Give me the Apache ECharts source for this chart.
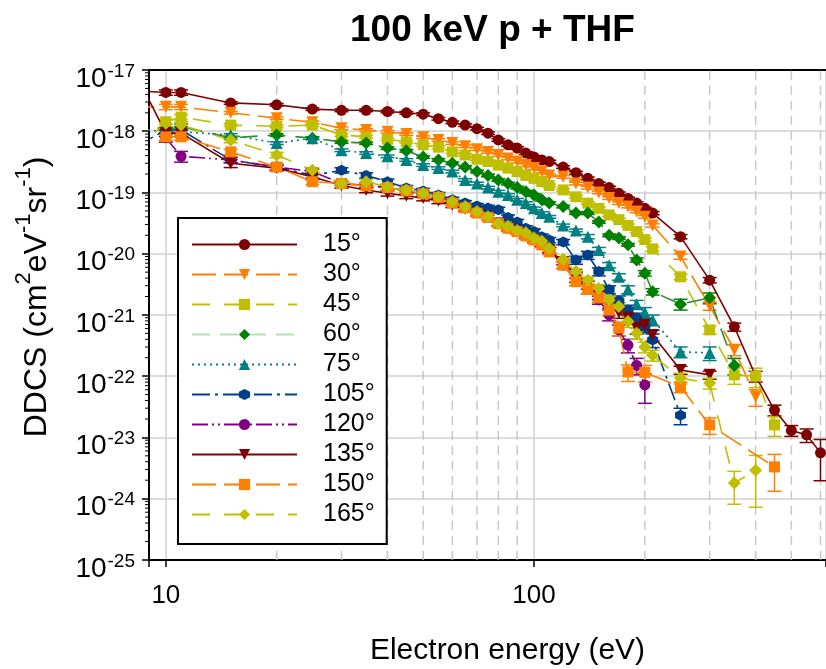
<!DOCTYPE html>
<html><head><meta charset="utf-8">
<script src="https://cdn.jsdelivr.net/npm/echarts@6/dist/echarts.min.js"></script>
<style>html,body{margin:0;padding:0;background:#fff}#c{width:826px;height:669px}</style>
</head><body><div id="c"></div>
<script>
// ---------------- data ----------------
const energy15 = [8,10,11,15,20,25,30,35,40,45,50,55,60,65,70,75,80,85,90,95,100,105,110,120,130,140,150,160,170,180,190,200,210,250,300,350,400,450,500,550,600];
const ddcs15 = [4.6e-18,4.3e-18,4.3e-18,2.9e-18,2.7e-18,2.3e-18,2.2e-18,2.2e-18,2.1e-18,2.0e-18,1.9e-18,1.6e-18,1.4e-18,1.26e-18,1.1e-18,9.3e-19,7.2e-19,6.0e-19,5.3e-19,4.4e-19,3.8e-19,3.4e-19,3.2e-19,2.6e-19,2.1e-19,1.7e-19,1.4e-19,1.2e-19,9.7e-20,8.0e-20,6.7e-20,5.5e-20,4.6e-20,1.9e-20,3.7e-21,6.4e-22,1.0e-22,2.8e-23,1.3e-23,1.1e-23,5.6e-24];
const err15 = [0.05,0.1,0.1,0.05,0.05,0.05,0.05,0.05,0.05,0.05,0.05,0.05,0.05,0.05,0.05,0.05,0.05,0.05,0.05,0.05,0.05,0.05,0.05,0.05,0.05,0.05,0.05,0.05,0.05,0.05,0.05,0.05,0.06,0.08,0.1,0.15,0.2,0.2,0.2,0.25,0.65];

const energy30 = [8,10,11,15,20,25,30,35,40,45,50,55,60,65,70,75,80,85,90,95,100,105,110,120,130,140,150,160,170,180,190,200,210,250,300,350,400];
const ddcs30 = [2.5e-18,2.5e-18,2.5e-18,2.0e-18,1.63e-18,1.4e-18,1.12e-18,1.05e-18,9.8e-19,9.0e-19,8.0e-19,7.2e-19,6.4e-19,5.7e-19,5.1e-19,4.6e-19,4.1e-19,3.6e-19,3.2e-19,2.8e-19,2.5e-19,2.2e-19,1.9e-19,1.8e-19,1.4e-19,1.2e-19,1.0e-19,8.1e-20,6.7e-20,5.9e-20,4.9e-20,4.0e-20,2.9e-20,9.0e-21,1.4e-21,2.7e-22,4.6e-23];
const err30 = [0.05,0.1,0.1,0.05,0.05,0.05,0.05,0.05,0.05,0.05,0.05,0.05,0.05,0.05,0.05,0.05,0.05,0.05,0.05,0.05,0.05,0.05,0.05,0.05,0.05,0.05,0.05,0.05,0.05,0.05,0.05,0.05,0.06,0.1,0.15,0.2,0.3];

const energy45 = [8,10,11,15,20,25,30,35,40,45,50,55,60,65,70,75,80,85,90,95,100,105,110,120,130,140,150,160,170,180,190,200,210,250,300,350,400,450];
const ddcs45 = [1.8e-18,1.43e-18,1.7e-18,1.26e-18,1.2e-18,1.26e-18,8.7e-19,8.1e-19,7.4e-19,6.7e-19,6.0e-19,5.5e-19,4.6e-19,4.1e-19,3.5e-19,3.2e-19,2.8e-19,2.5e-19,2.2e-19,1.9e-19,1.7e-19,1.5e-19,1.3e-19,1.1e-19,8.5e-20,6.7e-20,5.5e-20,4.3e-20,3.6e-20,2.9e-20,2.3e-20,1.7e-20,1.2e-20,4.2e-21,5.7e-22,1.05e-22,1.0e-22,1.6e-23];
const err45 = [0.05,0.1,0.1,0.05,0.05,0.05,0.05,0.05,0.05,0.05,0.05,0.05,0.05,0.05,0.05,0.05,0.05,0.05,0.05,0.05,0.05,0.05,0.05,0.05,0.05,0.05,0.05,0.05,0.05,0.05,0.05,0.06,0.08,0.1,0.15,0.3,0.35,0.35];

const energy60 = [8,10,11,15,20,25,30,35,40,45,50,55,60,65,70,75,80,85,90,95,100,105,110,120,130,140,150,160,170,180,190,200,210,250,300,350];
const ddcs60 = [1.43e-18,1.05e-18,1.19e-18,7.8e-19,8.7e-19,7.7e-19,6.7e-19,6.4e-19,5.3e-19,4.8e-19,3.8e-19,3.4e-19,3.0e-19,2.6e-19,2.2e-19,1.9e-19,1.6e-19,1.4e-19,1.2e-19,1.03e-19,9.1e-20,7.6e-20,6.7e-20,5.9e-20,4.6e-20,4.6e-20,3.3e-20,2.0e-20,1.8e-20,1.4e-20,7.9e-21,4.8e-21,2.4e-21,1.5e-21,1.9e-21,1.5e-22];
const err60 = [0.05,0.1,0.1,0.05,0.05,0.05,0.05,0.05,0.05,0.05,0.05,0.05,0.05,0.05,0.05,0.05,0.05,0.05,0.05,0.05,0.05,0.05,0.05,0.05,0.05,0.05,0.05,0.05,0.05,0.05,0.08,0.1,0.12,0.2,0.2,0.3];

const energy75 = [8,10,11,15,20,25,30,35,40,45,50,55,60,65,70,75,80,85,90,95,100,105,110,120,130,140,150,160,170,180,190,200,210,250,300];
const ddcs75 = [1.13e-18,9.8e-19,9.8e-19,8.7e-19,6.4e-19,7.7e-19,4.9e-19,4.4e-19,3.9e-19,3.4e-19,2.8e-19,2.5e-19,2.2e-19,1.6e-19,1.4e-19,1.2e-19,1.03e-19,9.1e-20,7.6e-20,6.7e-20,5.5e-20,4.6e-20,4.0e-20,2.9e-20,2.4e-20,1.9e-20,1.15e-20,6.5e-21,4.2e-21,2.6e-21,1.5e-21,1.1e-21,8.3e-22,2.5e-22,2.4e-22];
const err75 = [0.05,0.1,0.1,0.05,0.05,0.05,0.05,0.05,0.05,0.05,0.05,0.05,0.05,0.05,0.05,0.05,0.05,0.05,0.05,0.05,0.05,0.05,0.05,0.05,0.05,0.08,0.1,0.1,0.12,0.15,0.15,0.2,0.2,0.2,0.25];

const energy105 = [8,10,11,15,20,25,30,35,40,45,50,55,60,65,70,75,80,85,90,95,100,105,110,120,130,140,150,160,170,180,190,200,210,250];
const ddcs105 = [5.0e-19,1.05e-18,1.05e-18,3.4e-19,2.6e-19,1.9e-19,2.3e-19,1.9e-19,1.5e-19,1.18e-19,1.06e-19,9.1e-20,7.6e-20,6.7e-20,6.0e-20,5.6e-20,5.2e-20,3.9e-20,3.3e-20,2.6e-20,2.3e-20,1.9e-20,1.67e-20,1.55e-20,7.9e-21,9.5e-21,5.1e-21,2.6e-21,1.7e-21,1.2e-21,8.9e-22,6.4e-22,3.9e-22,2.3e-23];
const err105 = [0.1,0.12,0.12,0.1,0.1,0.1,0.1,0.1,0.1,0.1,0.1,0.1,0.1,0.1,0.1,0.1,0.1,0.1,0.1,0.1,0.1,0.1,0.1,0.1,0.15,0.15,0.15,0.15,0.2,0.2,0.2,0.2,0.25,0.3];

const energy120 = [10,11,15,20,25,30,35,40,45,50,55,60,65,70,75,80,85,90,95,100,105,110,120,130,140,150,160,170,180,190,200];
const ddcs120 = [7.8e-19,3.9e-19,3.4e-19,2.6e-19,2.2e-19,1.4e-19,1.3e-19,1.2e-19,1.06e-19,9.5e-20,8.4e-20,7.0e-20,5.8e-20,4.8e-20,4.0e-20,3.2e-20,2.7e-20,2.35e-20,2.0e-20,1.74e-20,1.44e-20,1.15e-20,6.5e-21,4.0e-21,2.6e-21,1.76e-21,1.0e-21,5.7e-22,3.2e-22,1.5e-22,7.2e-23];
const err120 = [0.15,0.2,0.1,0.1,0.1,0.1,0.1,0.1,0.1,0.1,0.1,0.1,0.1,0.1,0.1,0.1,0.1,0.1,0.1,0.1,0.1,0.1,0.12,0.15,0.15,0.15,0.2,0.2,0.25,0.3,0.5];

const energy135 = [8,10,11,15,20,25,30,35,40,45,50,55,60,65,70,75,80,85,90,95,100,105,110,120,130,140,150,160,170,180,190,200,210,250,300];
const ddcs135 = [1.3e-17,9.3e-19,9.3e-19,3.0e-19,2.5e-19,1.8e-19,1.3e-19,1.1e-19,9.7e-20,8.8e-20,8.1e-20,7.3e-20,6.3e-20,5.4e-20,4.6e-20,3.9e-20,3.1e-20,2.6e-20,2.3e-20,1.95e-20,1.67e-20,1.44e-20,1.15e-20,7.3e-21,4.5e-21,3.1e-21,2.1e-21,1.5e-21,1.1e-21,8.8e-22,6.1e-22,6.9e-22,4.7e-22,1.26e-22,1.05e-22];
const err135 = [0.1,0.12,0.12,0.15,0.1,0.1,0.1,0.1,0.1,0.1,0.1,0.1,0.1,0.1,0.1,0.1,0.1,0.1,0.1,0.1,0.1,0.1,0.1,0.1,0.12,0.15,0.15,0.15,0.2,0.2,0.2,0.2,0.2,0.15,0.15];

const energy150 = [10,11,15,20,25,30,35,40,45,50,55,60,65,70,75,80,85,90,95,100,105,110,120,130,140,150,160,170,180,200,250,300,450];
const ddcs150 = [8.1e-19,8.1e-19,4.6e-19,2.6e-19,1.5e-19,1.4e-19,1.28e-19,1.2e-19,1.06e-19,9.5e-20,8.3e-20,6.7e-20,5.6e-20,4.6e-20,3.9e-20,3.1e-20,2.6e-20,2.3e-20,1.95e-20,1.67e-20,1.39e-20,1.07e-20,6.5e-21,3.5e-21,2.6e-21,1.9e-21,1.2e-21,6.1e-22,1.17e-22,1.15e-22,6.7e-23,1.6e-23,3.3e-24];
const err150 = [0.12,0.12,0.1,0.1,0.1,0.1,0.1,0.1,0.1,0.1,0.1,0.1,0.1,0.1,0.1,0.1,0.1,0.1,0.1,0.1,0.1,0.1,0.12,0.15,0.15,0.15,0.2,0.25,0.3,0.3,0.2,0.3,0.6];

const energy165 = [8,10,11,15,20,25,30,35,40,45,50,55,60,65,70,75,80,85,90,95,100,105,110,120,130,140,150,160,170,180,190,200,210,250,300,350,400];
const ddcs165 = [4.4e-19,1.35e-18,1.26e-18,7.2e-19,4.1e-19,2.3e-19,1.4e-19,1.5e-19,1.24e-19,1.1e-19,9.7e-20,8.5e-20,7.1e-20,5.9e-20,4.9e-20,4.0e-20,3.1e-20,2.8e-20,2.4e-20,2.2e-20,1.8e-20,1.6e-20,1.23e-20,8.1e-21,5.1e-21,3.7e-21,2.7e-21,1.76e-21,1.37e-21,7.8e-22,5.0e-22,3.0e-22,2.2e-22,9.3e-23,7.7e-23,1.8e-24,2.9e-24];
const err165 = [0.1,0.12,0.12,0.1,0.1,0.1,0.1,0.1,0.1,0.1,0.1,0.1,0.1,0.1,0.1,0.1,0.1,0.1,0.1,0.1,0.1,0.1,0.1,0.1,0.1,0.12,0.15,0.15,0.15,0.2,0.2,0.2,0.2,0.2,0.2,0.55,0.75];

const angleLabels = ['15°','30°','45°','60°','75°','105°','120°','135°','150°','165°'];
const xGridMinor = [20,30,40,50,60,70,80,90,200,300,400,500,600];
const yMinorTicks = [];
[-25,-24,-23,-22,-21,-20,-19,-18].forEach(function(p){[2,3,4,5,6,7,8,9].forEach(function(k){yMinorTicks.push(k*Math.pow(10,p));});});

// ---------------- styles ----------------
const FONT = 'Liberation Sans, Arial, sans-serif';
const HEX = 'path://M0.5,0 L1,0.25 L1,0.75 L0.5,1 L0,0.75 L0,0.25 Z';
const styles = [
  {e:energy15, v:ddcs15, r:err15, color:'#7f0000', line:'#7f0000', dash:'solid', symbol:'circle', size:11, rot:0},
  {e:energy30, v:ddcs30, r:err30, color:'#ff7f00', line:'#ff7f00', dash:[24,8], symbol:'triangle', size:12, rot:180},
  {e:energy45, v:ddcs45, r:err45, color:'#bfbf00', line:'#bfbf00', dash:[18,14], symbol:'rect', size:11, rot:0},
  {e:energy60, v:ddcs60, r:err60, color:'#008000', line:'#2e8b2e', dash:[18,10], symbol:'diamond', size:13, rot:0, legendLine:'#b9ddb9'},
  {e:energy75, v:ddcs75, r:err75, color:'#008080', line:'#008080', dash:[2,4], symbol:'triangle', size:12, rot:0},
  {e:energy105, v:ddcs105, r:err105, color:'#003f87', line:'#003f87', dash:[18,5,3,5], symbol:HEX, size:11, rot:0},
  {e:energy120, v:ddcs120, r:err120, color:'#800080', line:'#800080', dash:[16,4,2,4,2,4], symbol:'circle', size:11, rot:0},
  {e:energy135, v:ddcs135, r:err135, color:'#7f0000', line:'#7f0000', dash:'solid', symbol:'triangle', size:12, rot:180},
  {e:energy150, v:ddcs150, r:err150, color:'#ff7f00', line:'#ff7f00', dash:[24,8], symbol:'rect', size:11, rot:0},
  {e:energy165, v:ddcs165, r:err165, color:'#bfbf00', line:'#bfbf00', dash:[18,14], symbol:'diamond', size:13, rot:0}
];

function errRenderer(color){
  return function(params, api){
    const x = api.value(0), lo = api.value(1), hi = api.value(2);
    const a = api.coord([x, lo]), b = api.coord([x, hi]);
    const w = 7, st = {stroke: color, lineWidth: 1.5};
    return {type:'group', children:[
      {type:'line', shape:{x1:a[0], y1:a[1], x2:b[0], y2:b[1]}, style:st},
      {type:'line', shape:{x1:a[0]-w, y1:a[1], x2:a[0]+w, y2:a[1]}, style:st},
      {type:'line', shape:{x1:b[0]-w, y1:b[1], x2:b[0]+w, y2:b[1]}, style:st}
    ]};
  };
}

const series = [];
series.push({
  type:'custom', name:'gridx', z:1, silent:true, clip:true,
  data: xGridMinor.map(function(x){return [x, 1e-25, 1e-17];}),
  encode:{x:0, y:[1,2]},
  renderItem: function(params, api){
    const a = api.coord([api.value(0), api.value(1)]), b = api.coord([api.value(0), api.value(2)]);
    return {type:'line', shape:{x1:a[0], y1:a[1], x2:b[0], y2:b[1]}, style:{stroke:'#c8c8c8', lineWidth:1.5, lineDash:[9,6]}};
  }
});
series.push({
  type:'custom', name:'yminor', z:5, silent:true, clip:false,
  data: yMinorTicks.map(function(v){return [9, v];}),
  encode:{x:0, y:1},
  renderItem: function(params, api){
    const p = api.coord([api.value(0), api.value(1)]);
    return {type:'line', shape:{x1:p[0]-4, y1:p[1], x2:p[0], y2:p[1]}, style:{stroke:'#000', lineWidth:1}};
  }
});

styles.forEach(function(s, i){
  series.push({
    type:'custom', name:'err'+i, z:2, silent:true, clip:true,
    data: s.e.map(function(x, j){return [x, s.v[j]*(1-s.r[j]), s.v[j]*(1+s.r[j])];}),
    encode:{x:0, y:[1,2]},
    renderItem: errRenderer(s.color)
  });
  series.push({
    type:'line', name: angleLabels[i], z:2, clip:true,
    data: s.e.map(function(x, j){return [x, s.v[j]];}),
    symbol: s.symbol, symbolSize: s.size, symbolRotate: s.rot, showAllSymbol:true,
    lineStyle:{color:s.line, width:1.6, type:s.dash},
    itemStyle:{color:s.color},
    emphasis:{disabled:true}
  });
});

const legendData = styles.map(function(s, i){
  const d = {name: angleLabels[i]};
  if (s.legendLine) d.lineStyle = {color: s.legendLine};
  return d;
});

function yLabel(v){
  const l = Math.log10(v), n = Math.round(l);
  if (Math.abs(l - n) > 1e-3) return '';
  return '{b|10}{s|' + n + '}';
}

const option = {
  animation:false,
  backgroundColor:'#fff',
  textStyle:{fontFamily:FONT},
  title:{text:'100 keV p + THF', left:345, top:7, textStyle:{fontSize:37, fontWeight:'bold', color:'#000', fontFamily:FONT}},
  grid:{left:149, top:70, right:0, bottom:109, outerBoundsMode:'none', containLabel:false},
  legend:{
    orient:'vertical', left:178, top:218, selectedMode:false,
    itemWidth:105, itemHeight:14, itemGap:5,
    backgroundColor:'#fff', borderColor:'#000', borderWidth:2,
    padding:[14,12,17,13],
    textStyle:{fontSize:25, color:'#000', fontFamily:FONT, padding:[0,0,0,21]},
    data: legendData
  },
  xAxis:[{
    type:'log', logBase:10, min:9, max:621,
    axisLine:{show:true, lineStyle:{color:'#000', width:2}},
    axisTick:{show:true, length:7, lineStyle:{color:'#000', width:1.5}},
    splitLine:{show:true, lineStyle:{color:'#d0d0d0', width:1.5}},
    minorTick:{show:false}, minorSplitLine:{show:false},
    axisLabel:{fontSize:26, color:'#000', margin:23, fontFamily:FONT, showMinLabel:true, showMaxLabel:true,
      formatter:function(v){const l=Math.log10(v); return Math.abs(l-Math.round(l))<1e-6 ? String(Math.round(v)) : '';}},
    name:'Electron energy (eV)', nameLocation:'middle', nameGap:76, nameMoveOverlap:false,
    nameTextStyle:{fontSize:30, color:'#000', fontFamily:FONT, padding:[0,0,0,40]}
  },{
    type:'log', logBase:10, min:9, max:621, position:'top',
    axisLine:{show:true, lineStyle:{color:'#000', width:2}},
    axisTick:{show:false}, axisLabel:{show:false}, splitLine:{show:false}
  }],
  yAxis:{
    type:'log', logBase:10, min:0.995e-25, max:1e-17,
    axisLine:{show:true, lineStyle:{color:'#000', width:2}},
    axisTick:{show:true, length:7, lineStyle:{color:'#000', width:1.5}},
    splitLine:{show:true, lineStyle:{color:'#d0d0d0', width:1.5}},
    axisLabel:{margin:14, color:'#000', fontFamily:FONT, showMinLabel:true, showMaxLabel:true, hideOverlap:false,
      formatter: yLabel,
      rich:{
        b:{fontSize:28, lineHeight:34, padding:[12,0,0,0], verticalAlign:'top', fontFamily:FONT, color:'#000'},
        s:{fontSize:19, lineHeight:19, padding:[9,0,0,1], verticalAlign:'top', fontFamily:FONT, color:'#000'}
      }},
    name:'{a|DDCS (cm}{s|2}{a|eV}{s|-1}{a|sr}{s|-1}{a|)}', nameLocation:'middle', nameGap:96, nameRotate:90, nameMoveOverlap:false,
    nameTextStyle:{color:'#000', fontFamily:FONT, padding:[0,0,0,36],
      rich:{
        a:{fontSize:32, lineHeight:40, verticalAlign:'bottom', fontFamily:FONT, color:'#000'},
        s:{fontSize:22, lineHeight:22, verticalAlign:'top', fontFamily:FONT, color:'#000'}
      }}
  },
  series: series
};

const chart = echarts.init(document.getElementById('c'), null, {renderer:'canvas'});
chart.setOption(option);
</script>
</body></html>
